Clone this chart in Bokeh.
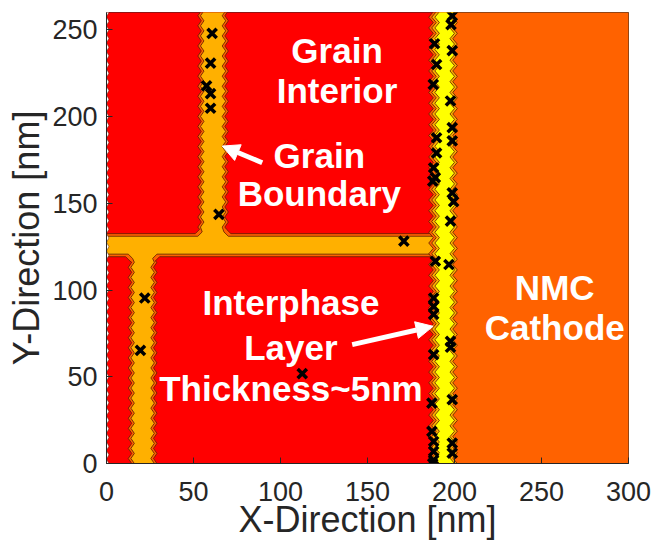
from bokeh.plotting import figure
from bokeh.models import Range1d, Arrow, NormalHead, FixedTicker
from bokeh.core.properties import value
from bokeh.embed import file_html
from bokeh.resources import INLINE

# ---------------- data ----------------
x_lim = [0, 300]
y_lim = [0, 260]
x_ticks = [0, 50, 100, 150, 200, 250, 300]
y_ticks = [0, 50, 100, 150, 200, 250]
x_label = "X-Direction [nm]"
y_label = "Y-Direction [nm]"

# regions (nm)
grain_x = [0, 200]
cathode_x = [200, 300]
gb_top_x = [55, 67.5]        # upper vertical grain boundary
gb_mid_y = [120.7, 131.0]    # horizontal grain boundary
gb_mid_x_end = 189
gb_bot_x = [15, 26.5]        # lower vertical grain boundary
interphase_x = [190, 198.7]  # interphase layer (yellow)

# marker positions (nm)
mark_x = [60.7, 59.8, 57.5, 59.8, 59.8, 64.6, 22.0, 19.5, 112.5, 170.9,
          188.5, 189.7, 187.8, 189.7, 189.7, 188.0, 189.0, 187.5, 189.0, 188.0,
          188.0, 188.0, 188.0, 187.0, 187.0, 188.0, 188.0, 188.0, 187.5,
          198.7, 198.0, 198.7, 197.7, 198.7, 198.7, 198.7, 199.5, 197.7, 196.8,
          197.7, 197.7, 198.7, 198.7, 198.7]
mark_y = [248.0, 230.8, 217.7, 213.2, 204.8, 143.6, 95.4, 65.2, 51.8, 128.2,
          242.0, 230.0, 218.6, 187.8, 179.0, 170.5, 164.8, 162.8, 116.6, 95.4,
          90.6, 86.0, 62.8, 34.8, 18.5, 12.7, 7.0, 2.0, 0.0,
          258.0, 253.0, 238.0, 209.0, 193.6, 186.0, 156.0, 151.0, 139.7, 114.7,
          70.4, 67.0, 36.8, 11.7, 6.0]

# annotations
ann_text = ["Grain", "Interior", "Grain", "Boundary",
            "Interphase", "Layer", "Thickness~5nm", "NMC", "Cathode"]
ann_x = [132.5, 132.5, 122.3, 122.3, 106, 106, 106, 257.6, 257.6]
ann_y = [237.9, 214.8, 177.7, 155.6, 93.1, 67.1, 43.0, 101.5, 78.5]

arrow_gb = [89.5, 173.4, 66.5, 183.0]       # x_start, y_start, x_end, y_end
arrow_ip = [141.2, 68.5, 187.7, 79.1]

# ---------------- colours / styles ----------------
C_GRAIN = "#FF0000"
C_CATH = "#FF6200"
C_GB = "#FFB000"
C_IP = "#FFFF00"
C_EDGE = "#5A1E00"
AXC = "#262626"
FONT = "Liberation Sans"
ZIG_P = 5.8
ZIG_A = 2.0


def zig(xb, y0, y1, amp=ZIG_A, per=ZIG_P):
    """vertical zig-zag edge from y0 to y1 at base x (phase locked to y grid)"""
    h = per / 2.0
    pts = [(xb, y0)]
    lo, hi = min(y0, y1), max(y0, y1)
    ks = list(range(int(lo // h) + 1, int(hi // h) + 1))
    if y1 < y0:
        ks = ks[::-1]
    for k in ks:
        y = k * h
        if lo < y < hi:
            pts.append((xb + (amp / 2 if k % 2 == 0 else -amp / 2), y))
    pts.append((xb, y1))
    return pts


def gb_poly(d):
    xl_t, xr_t = gb_top_x[0] - d, gb_top_x[1] + d
    yb, yt = gb_mid_y[0] - d, gb_mid_y[1] + d
    xl_b, xr_b = gb_bot_x[0] - d, gb_bot_x[1] + d
    c = 2.5
    pts = [(-5, yt), (xl_t - c, yt)]
    pts += zig(xl_t, yt + c, 266)
    pts += zig(xr_t, 266, yt + c)
    pts += [(xr_t + c, yt), (gb_mid_x_end, yt), (gb_mid_x_end, yb), (xr_b + c, yb)]
    pts += zig(xr_b, yb - c, -6)
    pts += zig(xl_b, -6, yb - c)
    pts += [(xl_b - c, yb), (-5, yb)]
    return [q[0] for q in pts], [q[1] for q in pts]


def band_poly(xl, xr, amp=2.6, per=6.2):
    pts = zig(xl, -6, 266, amp, per) + zig(xr, 266, -6, amp, per)
    return [q[0] for q in pts], [q[1] for q in pts]


# ---------------- figure ----------------
p = figure(width=651, height=546, output_backend="svg", toolbar_location=None,
           x_range=Range1d(*x_lim), y_range=Range1d(*y_lim),
           min_border_left=106, min_border_right=23, min_border_top=12,
           min_border_bottom=83)
p.grid.visible = False
p.background_fill_color = "white"
p.outline_line_color = AXC
p.outline_line_width = 1

# base regions
p.quad(left=[grain_x[0]], right=[grain_x[1]], bottom=[y_lim[0] - 5], top=[y_lim[1] + 5],
       fill_color=C_GRAIN, line_color=None)

# grain boundaries (outer contour band + inner fill)
gx, gy = gb_poly(1.5)
p.patch(gx, gy, fill_color=C_CATH, line_color=C_EDGE, line_width=0.8)
gx, gy = gb_poly(0.0)
p.patch(gx, gy, fill_color=C_GB, line_color=C_EDGE, line_width=0.8)

# cathode + interphase layered contours
bx, by = band_poly(interphase_x[0] - 3.5, cathode_x[1] + 10)
p.patch(bx, by, fill_color=C_CATH, line_color=C_EDGE, line_width=0.8)
bx, by = band_poly(interphase_x[0] - 1.8, interphase_x[1] + 1.6)
p.patch(bx, by, fill_color=C_GB, line_color=C_EDGE, line_width=0.8)
bx, by = band_poly(interphase_x[0], interphase_x[1])
p.patch(bx, by, fill_color=C_IP, line_color=C_EDGE, line_width=0.8)

# white scalloped left edge
wl = zig(0.7, -6, 266, 1.4, 5.0)
wx = [-5] + [q[0] for q in wl] + [-5]
wy = [-6] + [q[1] for q in wl] + [266]
p.patch(wx, wy, fill_color="white", line_color=C_EDGE, line_width=0.5)

# markers
p.scatter(mark_x, mark_y, marker="x", size=13, line_color="black", line_width=3.5)

# annotations
p.text(x=ann_x, y=ann_y, text=ann_text, text_font=value(FONT),
       text_font_style="bold", text_font_size="35px", text_color="white",
       text_align="center", text_baseline="middle")

for a in (arrow_gb, arrow_ip):
    p.add_layout(Arrow(end=NormalHead(size=17, fill_color="white", line_color="white"),
                       x_start=a[0], y_start=a[1], x_end=a[2], y_end=a[3],
                       line_color="white", line_width=5))

# axes
for ax in (p.xaxis[0], p.yaxis[0]):
    ax.axis_line_color = AXC
    ax.major_tick_line_color = AXC
    ax.major_tick_in = 6
    ax.major_tick_out = 0
    ax.minor_tick_line_color = None
    ax.major_label_text_font = FONT
    ax.major_label_text_font_size = "27px"
    ax.major_label_text_color = AXC
    ax.axis_label_text_font = FONT
    ax.axis_label_text_font_size = "36px"
    ax.axis_label_text_font_style = "normal"
    ax.axis_label_text_color = AXC

p.xaxis.ticker = FixedTicker(ticks=x_ticks)
p.yaxis.ticker = FixedTicker(ticks=y_ticks)
p.xaxis.axis_label = x_label
p.yaxis.axis_label = y_label
p.xaxis.major_label_standoff = 18
p.xaxis.axis_label_standoff = -5
p.yaxis.major_label_standoff = 9
p.yaxis.axis_label_standoff = 2

open("out.html", "w").write(file_html(p, INLINE))
